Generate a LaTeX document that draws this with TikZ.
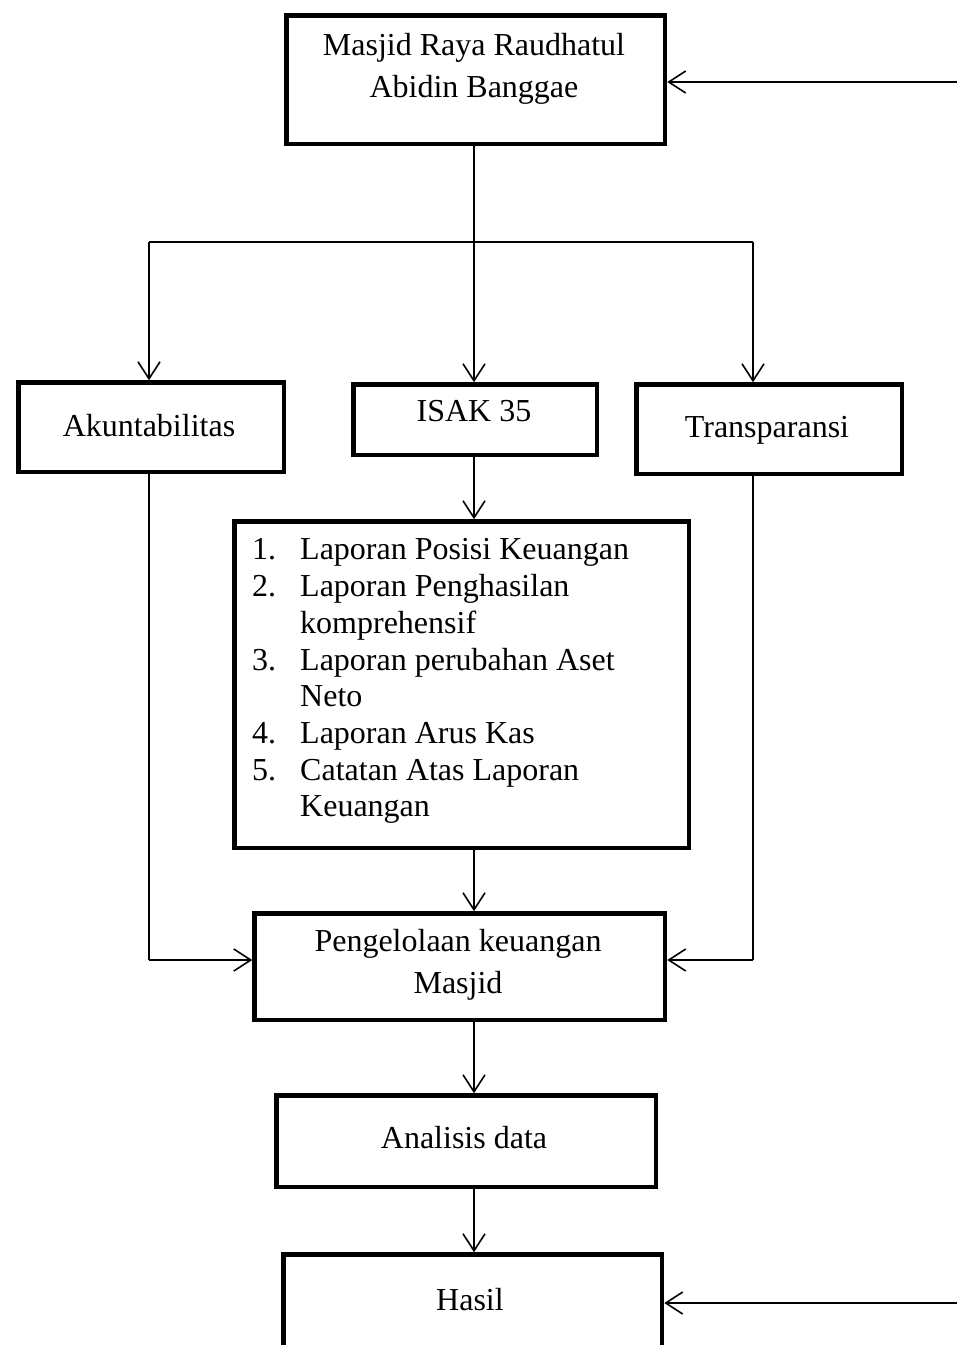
\documentclass[tikz,border=0pt]{standalone}
\usepackage{fontspec}
\setmainfont{Liberation Serif}
\usetikzlibrary{arrows.meta}
\begin{document}
\begin{tikzpicture}[x=1pt,y=-1pt,
  box/.style={draw,line width=4.5pt,inner sep=0pt,anchor=north west},
  txt/.style={font=\fontsize{32}{42}\selectfont,align=center,inner sep=0pt},
  conn/.style={line width=1.6pt,-{Straight Barb[length=17pt,width=22pt,line width=1.6pt]}},
  plain/.style={line width=1.6pt}]
\useasboundingbox (0,0) rectangle (957,1345);
% boxes (outer edge positions minus half line width)
\node[box,minimum width=378.5pt,minimum height=128.5pt] (top) at (284.25,13.25) {};
\node[box,minimum width=265.5pt,minimum height=89.5pt] (akun) at (16.25,380.25) {};
\node[box,minimum width=243.5pt,minimum height=70.5pt] (isak) at (351.25,382.25) {};
\node[box,minimum width=265.5pt,minimum height=89.5pt] (trans) at (634.25,382.25) {};
\node[box,minimum width=454.5pt,minimum height=326.5pt] (list) at (232.25,519.25) {};
\node[box,minimum width=410.5pt,minimum height=106.5pt] (peng) at (252.25,911.25) {};
\node[box,minimum width=379.5pt,minimum height=91.5pt] (anal) at (274.25,1093.25) {};
\node[box,minimum width=378.5pt,minimum height=150pt] (hasil) at (281.25,1252.25) {};
% texts
\node[txt] (ttop) at (474,69) {Masjid Raya Raudhatul\\Abidin Banggae};
\node[txt] (takun) at (149,426) {Akuntabilitas};
\node[txt] (tisak) at (474,411) {ISAK 35};
\node[txt] (ttrans) at (767,430) {Transparansi};
\node[txt] (tpeng) at (458,965) {Pengelolaan keuangan\\Masjid};
\node[txt] (tanal) at (464,1138) {Analisis data};
\node[txt] (thasil) at (470,1300) {Hasil};
\node[inner sep=0pt,anchor=north west,font=\fontsize{32}{36.7}\selectfont] (tlist) at (252,534) {%
\begin{tabular}{@{}l@{\hspace{24pt}}l@{}}
1. & Laporan Posisi Keuangan\\
2. & Laporan Penghasilan\\
   & komprehensif\\
3. & Laporan perubahan Aset\\
   & Neto\\
4. & Laporan Arus Kas\\
5. & Catatan Atas Laporan\\
   & Keuangan
\end{tabular}};
% connectors
\coordinate (rin1) at (957,82);
\coordinate (rin2) at (957,1303);
\coordinate (split) at (474,242);
\coordinate (sl) at (149,242);
\coordinate (sr) at (753,242);
\coordinate (al) at (149,960);
\coordinate (ar) at (753,960);
\draw[conn] (rin1) -- (rin1 -| top.east);
\draw[plain] (top.south -| split) -- (split);
\draw[plain] (sl) -- (sr);
\draw[conn] (split) -- (split |- isak.north);
\draw[conn] (sl) -- (sl |- akun.north);
\draw[conn] (sr) -- (sr |- trans.north);
\draw[conn] (isak.south -| split) -- (split |- list.north);
\draw[conn] (list.south -| split) -- (split |- peng.north);
\draw[plain] (akun.south -| sl) -- (al);
\draw[conn] (al) -- (al -| peng.west);
\draw[plain] (trans.south -| sr) -- (ar);
\draw[conn] (ar) -- (ar -| peng.east);
\draw[conn] (peng.south -| split) -- (split |- anal.north);
\draw[conn] (anal.south -| split) -- (split |- hasil.north);
\draw[conn] (rin2) -- (rin2 -| hasil.east);
\end{tikzpicture}
\end{document}
